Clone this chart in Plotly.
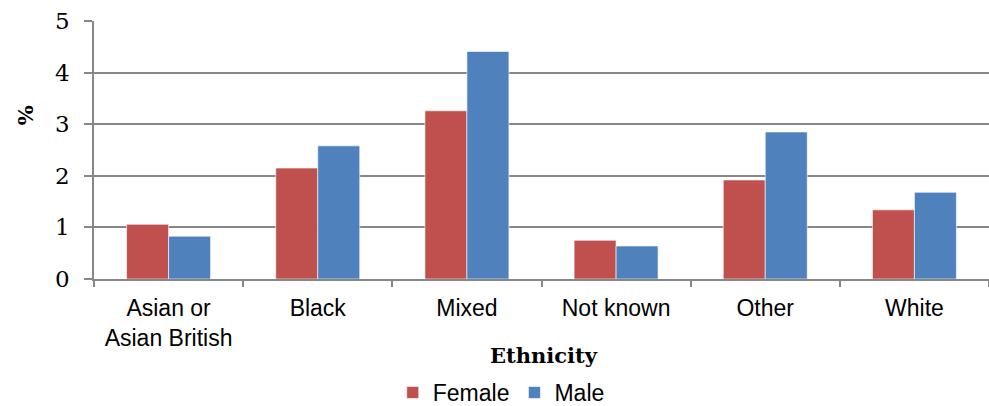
import plotly.graph_objects as go

# Rates by ethnicity and sex (%)
categories = ["Asian or<br>Asian British", "Black", "Mixed", "Not known", "Other", "White"]
female = [1.06, 2.15, 3.26, 0.75, 1.92, 1.34]
male = [0.83, 2.58, 4.41, 0.64, 2.85, 1.68]
y_ticks = [0, 1, 2, 3, 4, 5]

RED = "#C0504D"
BLUE = "#4F81BD"
GRID = "#878787"

fig = go.Figure()
fig.add_trace(go.Bar(
    name="Female", x=categories, y=female,
    marker=dict(color=RED, line=dict(color="rgba(255,255,255,0.6)", width=1)),
))
fig.add_trace(go.Bar(
    name="Male", x=categories, y=male,
    marker=dict(color=BLUE, line=dict(color="rgba(255,255,255,0.6)", width=1)),
))

fig.update_layout(
    width=989, height=406,
    margin=dict(l=94, r=0, t=21, b=127, autoexpand=False),
    paper_bgcolor="white", plot_bgcolor="white",
    barmode="group", bargap=0.437, bargroupgap=0,
    showlegend=True,
    legend=dict(
        orientation="h", x=0.455, xanchor="center", y=-0.44, yanchor="middle",
        font=dict(family="Liberation Sans, Arial, sans-serif", size=23, color="black"),
        itemwidth=30, tracegroupgap=0,
    ),
    xaxis=dict(
        type="category", tickson="boundaries",
        ticks="outside", ticklen=6, tickcolor=GRID, tickwidth=1.5,
        showline=True, linecolor=GRID, linewidth=1.5,
        showgrid=False, automargin=False,
        ticklabelstandoff=8,
        tickfont=dict(family="Liberation Sans, Arial, sans-serif", size=23, color="black"),
    ),
    yaxis=dict(
        range=[0, 5], tickvals=y_ticks, ticktext=[str(v) for v in y_ticks],
        ticks="outside", ticklen=8, tickcolor=GRID, tickwidth=1.5,
        showline=True, linecolor=GRID, linewidth=1.5,
        showgrid=True, gridcolor=GRID, gridwidth=1.5,
        zeroline=False, automargin=False,
        ticklabelstandoff=10,
        tickfont=dict(family="DejaVu Serif, serif", size=23, color="black"),
    ),
    annotations=[
        dict(text="<b>Ethnicity</b>", xref="paper", yref="paper",
             x=0.503, y=-0.295, xanchor="center", yanchor="middle", showarrow=False,
             font=dict(family="DejaVu Serif, serif", size=21, color="black")),
        dict(text="<b>%</b>", xref="paper", yref="paper",
             x=-0.077, y=0.635, xanchor="center", yanchor="middle", showarrow=False,
             textangle=-90,
             font=dict(family="DejaVu Serif, serif", size=21, color="black")),
    ],
)

fig.write_html("out.html")
